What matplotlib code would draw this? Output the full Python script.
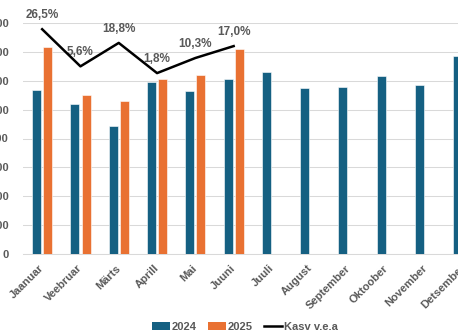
import matplotlib
matplotlib.use("Agg")
import matplotlib.pyplot as plt
import numpy as np
from matplotlib.patches import Patch
from matplotlib.lines import Line2D

plt.rcParams['font.family'] = ['Liberation Sans', 'DejaVu Sans']

months = ["Jaanuar", "Veebruar", "Märts", "Aprill", "Mai", "Juuni", "Juuli",
          "August", "September", "Oktoober", "November", "Detsember"]
values_2024 = [567, 520, 445, 594, 563, 607, 629, 575, 578, 616, 584, 685]
values_2025 = [717, 550, 529, 605, 619, 709]
growth = [26.5, 5.6, 18.8, 1.8, 10.3, 17.0]
growth_labels = ["26,5%", "5,6%", "18,8%", "1,8%", "10,3%", "17,0%"]
y_ticks = [0, 100, 200, 300, 400, 500, 600, 700, 800]

BLUE = "#156082"
ORANGE = "#E97132"
GRAY = "#595959"

fig = plt.figure(figsize=(4.58, 3.36), dpi=100)
W, H = 458, 336
left, right, top, bottom = 23, 482.6, 23, 254
ax = fig.add_axes([left / W, 1 - bottom / H, (right - left) / W, (bottom - top) / H])

x = np.arange(len(months))
w = 0.235
off = 0.145
ax.bar(x - off, values_2024, width=w, color=BLUE, edgecolor="white", linewidth=0.4, zorder=3)
ax.bar(x[:len(values_2025)] + off, values_2025, width=w, color=ORANGE, edgecolor="white",
       linewidth=0.4, zorder=3)

ax.set_xlim(-0.5, len(months) - 0.5)
ax.set_ylim(0, 800)
ax.set_yticks(y_ticks)
ax.set_yticklabels([str(v) for v in y_ticks], fontsize=8, fontweight="bold", color=GRAY)
ax.tick_params(axis="y", length=0, pad=10)
ax.set_xticks(x)
ax.set_xticklabels(months, rotation=45, ha="right", va="center", rotation_mode="anchor",
                   fontsize=8, fontweight="bold", color=GRAY)
ax.tick_params(axis="x", length=0, pad=9)
ax.grid(axis="y", color="#D9D9D9", linewidth=0.75, zorder=0)
ax.set_axisbelow(True)
for s in ["left", "right", "top"]:
    ax.spines[s].set_visible(False)
ax.spines["bottom"].set_color("#D9D9D9")
ax.spines["bottom"].set_linewidth(0.75)

ax2 = ax.twinx()
ax2.set_ylim(-100, 30)
ax2.plot(x[:len(growth)], growth, color="black", linewidth=1.8, zorder=4)
ax2.axis("off")
for xi, g, lab in zip(x, growth, growth_labels):
    ax2.annotate(lab, (xi, g), xytext=(0, 10), textcoords="offset points",
                 ha="center", va="center", fontsize=8.5, fontweight="bold", color=GRAY,
                 annotation_clip=False)

handles = [Patch(facecolor=BLUE, label="2024"),
           Patch(facecolor=ORANGE, label="2025"),
           Line2D([0], [0], color="black", linewidth=1.8, label="Kasv v.e.a")]
leg = fig.legend(handles=handles, loc="center", bbox_to_anchor=(245 / W, 1 - 327 / H),
                 ncol=3, frameon=False, handlelength=1.6, handleheight=0.7,
                 handletextpad=0.2, columnspacing=1.0,
                 prop={"size": 8, "weight": "bold"})
for t in leg.get_texts():
    t.set_color(GRAY)

fig.savefig("out.png", dpi=100)
